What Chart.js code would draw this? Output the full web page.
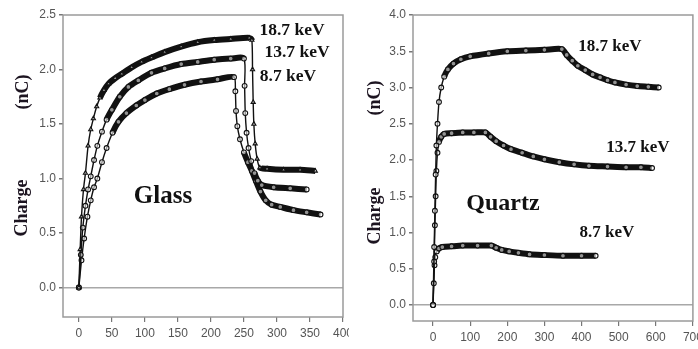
<!DOCTYPE html>
<html>
<head>
<meta charset="utf-8">
<script src="https://cdn.jsdelivr.net/npm/chart.js@4.4.1/dist/chart.umd.min.js"></script>
<style>
  body { margin: 0; background: #fff; }
  #wrap { position: relative; width: 698px; height: 349px; overflow: hidden; background: #fff; }
  canvas { position: absolute; top: 0; }
  #glass { left: 0; }
  #quartz { left: 349px; }
</style>
</head>
<body>
<div id="wrap">
  <canvas id="glass" width="349" height="349"></canvas>
  <canvas id="quartz" width="349" height="349"></canvas>
</div>
<script>
// Tick labels
const glassXTicks = [0, 50, 100, 150, 200, 250, 300, 350, 400];
const glassYTicks = [0, 0.5, 1.0, 1.5, 2.0, 2.5];
const quartzXTicks = [0, 100, 200, 300, 400, 500, 600, 700];
const quartzYTicks = [0, 0.5, 1.0, 1.5, 2.0, 2.5, 3.0, 3.5, 4.0];

// Glass, 18.7 keV
const glass187X = [0, 2, 4, 7, 10, 14, 18, 22, 27, 32, 38, 45, 55, 65, 80, 95, 110, 130, 155, 180, 205, 230, 258, 262, 263, 264, 265, 267, 270, 274, 285, 310, 335, 358];
const glass187Y = [0, 0.35, 0.65, 0.9, 1.05, 1.3, 1.45, 1.55, 1.66, 1.74, 1.81, 1.87, 1.92, 1.96, 2.02, 2.07, 2.11, 2.16, 2.21, 2.25, 2.27, 2.28, 2.29, 2.27, 2.0, 1.7, 1.5, 1.32, 1.18, 1.1, 1.09, 1.08, 1.08, 1.07];
// Glass, 13.7 keV
const glass137X = [0, 3, 6, 10, 14, 18, 23, 28, 35, 42, 50, 62, 75, 90, 110, 130, 155, 180, 205, 230, 250, 251, 252, 254, 257, 261, 266, 271, 277, 295, 320, 345];
const glass137Y = [0, 0.3, 0.55, 0.75, 0.9, 1.02, 1.17, 1.3, 1.43, 1.54, 1.63, 1.75, 1.84, 1.9, 1.97, 2.01, 2.05, 2.07, 2.09, 2.1, 2.1, 1.85, 1.6, 1.42, 1.28, 1.16, 1.05, 0.98, 0.94, 0.92, 0.91, 0.9];
// Glass, 8.7 keV
const glass87X = [0, 4, 8, 13, 18, 23, 28, 35, 42, 51, 60, 72, 87, 100, 118, 137, 160, 185, 210, 235, 237, 238, 240, 244, 250, 256, 262, 268, 275, 283, 292, 305, 325, 345, 366];
const glass87Y = [0, 0.25, 0.45, 0.65, 0.8, 0.92, 1.0, 1.15, 1.28, 1.42, 1.52, 1.6, 1.67, 1.72, 1.78, 1.82, 1.86, 1.89, 1.91, 1.93, 1.8, 1.62, 1.48, 1.36, 1.24, 1.15, 1.07, 0.98, 0.88, 0.8, 0.76, 0.74, 0.71, 0.69, 0.67];

// Quartz, 18.7 keV
const quartz187X = [0, 3, 5, 7, 9, 12, 16, 22, 30, 40, 55, 75, 100, 150, 200, 250, 300, 347, 360, 375, 390, 410, 430, 450, 470, 490, 520, 550, 580, 608];
const quartz187Y = [0, 0.8, 1.3, 1.8, 2.2, 2.5, 2.8, 3.0, 3.15, 3.25, 3.33, 3.39, 3.43, 3.47, 3.5, 3.51, 3.52, 3.53, 3.45, 3.37, 3.3, 3.24, 3.18, 3.14, 3.1, 3.07, 3.04, 3.02, 3.01, 3.0];
// Quartz, 13.7 keV
const quartz137X = [0, 3, 5, 7, 9, 12, 16, 22, 30, 50, 80, 110, 141, 155, 170, 190, 210, 240, 270, 300, 340, 380, 420, 470, 520, 560, 590];
const quartz137Y = [0, 0.6, 1.1, 1.5, 1.85, 2.1, 2.25, 2.32, 2.36, 2.37, 2.38, 2.38, 2.38, 2.32, 2.26, 2.2, 2.15, 2.1, 2.05, 2.01, 1.97, 1.94, 1.92, 1.91, 1.9, 1.9, 1.89];
// Quartz, 8.7 keV
const quartz87X = [0, 2, 4, 6, 10, 16, 25, 50, 80, 120, 157, 170, 185, 205, 230, 260, 300, 350, 400, 438];
const quartz87Y = [0, 0.3, 0.55, 0.66, 0.74, 0.78, 0.8, 0.81, 0.82, 0.82, 0.82, 0.79, 0.76, 0.74, 0.72, 0.7, 0.69, 0.68, 0.68, 0.68];

const tickFont = { family: "'Liberation Sans Narrow', 'Liberation Sans', sans-serif", size: 12 };
const serif = "'Liberation Serif', 'Times New Roman', serif";

function toPoints(xs, ys) {
  return xs.map((x, i) => ({ x: x, y: ys[i] }));
}

// steep part of a curve: sparse open markers, thin link
function isSteep(p0, p1) {
  return Math.abs(p1.y - p0.y) > Math.abs(p1.x - p0.x) * 2.5;
}

// A curve: thick band where points are dense, thin where the curve is steep
function curve(xs, ys, style) {
  return {
    data: toPoints(xs, ys),
    borderColor: "#111",
    backgroundColor: "#fff",
    borderWidth: 6,
    pointStyle: style,
    pointRadius: 2.4,
    pointBorderWidth: 1.1,
    pointBorderColor: "#111",
    pointBackgroundColor: "rgba(255,255,255,0.55)",
    tension: 0.25,
    segment: {
      borderWidth: (c) => (isSteep(c.p0, c.p1) ? 1.4 : 6),
    },
  };
}

// Draws the plot frame, the rotated axis titles and the text labels
const panelText = {
  id: "panelText",
  afterDraw(chart, args, opts) {
    const { ctx, chartArea: a } = chart;
    ctx.save();
    ctx.strokeStyle = "#9a9a9a";
    ctx.lineWidth = 1.5;
    ctx.strokeRect(a.left, a.top, a.right - a.left, a.bottom - a.top);
    ctx.fillStyle = "#1c1420";
    ctx.textAlign = "center";
    ctx.textBaseline = "middle";
    ctx.font = "bold 18px " + serif;
    for (const t of opts.yTitles) {
      ctx.save();
      ctx.translate(t.x, t.y);
      ctx.rotate(-Math.PI / 2);
      ctx.fillText(t.text, 0, 0);
      ctx.restore();
    }
    ctx.fillStyle = "#111";
    for (const t of opts.labels) {
      ctx.font = "bold " + t.size + "px " + serif;
      ctx.fillText(t.text, t.x, t.y);
    }
    ctx.restore();
  },
};

function makePanel(id, datasets, xr, yr, xTicks, yTicks, box, texts) {
  const config = {
    type: "line",
    data: { datasets: datasets },
    options: {
      responsive: false,
      animation: false,
      devicePixelRatio: 1,
      layout: { padding: { top: box.top, right: box.right, bottom: 0, left: 0 } },
      plugins: {
        legend: { display: false },
        tooltip: { enabled: false },
        panelText: texts,
      },
      scales: {
        x: {
          type: "linear",
          min: xr[0],
          max: xr[1],
          afterBuildTicks: (s) => { s.ticks = xTicks.map((v) => ({ value: v })); },
          afterFit: (s) => { s.height = box.bottom; s.paddingLeft = 0; s.paddingRight = 0; },
          border: { display: false },
          grid: { drawOnChartArea: false, tickLength: 5, tickColor: "#777", lineWidth: 1.2 },
          ticks: { font: tickFont, color: "#555", padding: 4, maxRotation: 0, autoSkip: false,
                   callback: (v) => String(v) },
        },
        y: {
          type: "linear",
          min: yr[0],
          max: yr[1],
          afterBuildTicks: (s) => { s.ticks = yTicks.map((v) => ({ value: v })); },
          afterFit: (s) => { s.width = box.left; s.paddingTop = 0; s.paddingBottom = 0; },
          border: { display: false },
          grid: {
            color: (c) => (c.tick && c.tick.value === 0 ? "#a8a8a8" : "rgba(0,0,0,0)"),
            lineWidth: 1.5,
            tickLength: 4,
            tickColor: "#777",
          },
          ticks: { font: tickFont, color: "#555", padding: 3, callback: (v) => v.toFixed(1) },
        },
      },
    },
    plugins: [panelText],
  };
  return new Chart(document.getElementById(id).getContext("2d"), config);
}

makePanel(
  "glass",
  [
    curve(glass187X, glass187Y, "triangle"),
    curve(glass137X, glass137Y, "circle"),
    curve(glass87X, glass87Y, "circle"),
  ],
  [-24, 400],
  [-0.27, 2.5],
  glassXTicks,
  glassYTicks,
  { left: 63, right: 6, top: 15, bottom: 32 },
  {
    yTitles: [
      { text: "(nC)", x: 23, y: 92 },
      { text: "Charge", x: 22, y: 208 },
    ],
    labels: [
      { text: "18.7 keV", x: 292, y: 30, size: 17.5 },
      { text: "13.7 keV", x: 297, y: 52, size: 17.5 },
      { text: "8.7 keV", x: 288, y: 76, size: 17.5 },
      { text: "Glass", x: 163, y: 197, size: 25 },
    ],
  }
);

makePanel(
  "quartz",
  [
    curve(quartz187X, quartz187Y, "circle"),
    curve(quartz137X, quartz137Y, "circle"),
    curve(quartz87X, quartz87Y, "circle"),
  ],
  [-54, 700],
  [-0.22, 4.0],
  quartzXTicks,
  quartzYTicks,
  { left: 64, right: 5, top: 15, bottom: 28 },
  {
    yTitles: [
      { text: "(nC)", x: 26, y: 98 },
      { text: "Charge", x: 26, y: 216 },
    ],
    labels: [
      { text: "18.7 keV", x: 261, y: 47, size: 17 },
      { text: "13.7 keV", x: 289, y: 148, size: 17 },
      { text: "8.7 keV", x: 258, y: 233, size: 17 },
      { text: "Quartz", x: 154, y: 204, size: 24 },
    ],
  }
);
</script>
</body>
</html>
